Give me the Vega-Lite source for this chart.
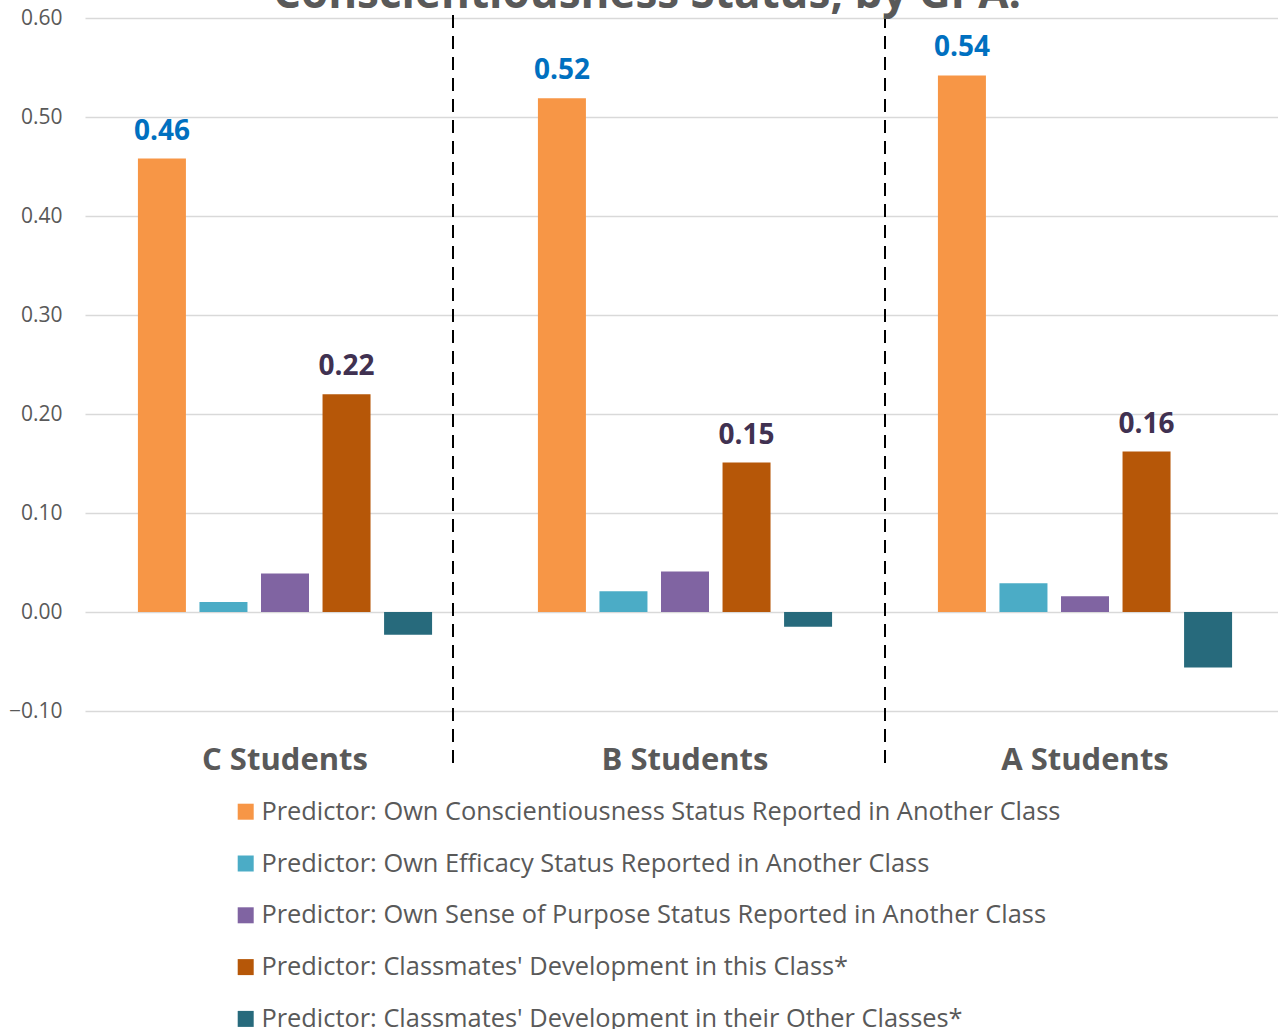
{
  "$schema": "https://vega.github.io/schema/vega-lite/v6.json",
  "width": 1200,
  "height": 693,
  "autosize": {"type": "none"},
  "padding": {"top": 18, "left": 85, "right": 0, "bottom": 318},
  "background": "white",
  "config": {"view": {"stroke": null}, "font": "Open Sans"},
  "title": {
    "text": "Conscientiousness Status, by GPA.",
    "font": "Open Sans",
    "fontSize": 44,
    "fontWeight": "bold",
    "color": "#595959",
    "anchor": "middle",
    "frame": "group",
    "dx": -38,
    "baseline": "alphabetic",
    "offset": -45
  },
  "datasets": {
    "bars": [
      {"group": "C Students", "predictor": "Predictor: Own Conscientiousness Status Reported in Another Class", "value": 0.458},
      {"group": "C Students", "predictor": "Predictor: Own Efficacy Status Reported in Another Class", "value": 0.010},
      {"group": "C Students", "predictor": "Predictor: Own Sense of Purpose Status Reported in Another Class", "value": 0.039},
      {"group": "C Students", "predictor": "Predictor: Classmates' Development in this Class*", "value": 0.220},
      {"group": "C Students", "predictor": "Predictor: Classmates' Development in their Other Classes*", "value": -0.023},
      {"group": "B Students", "predictor": "Predictor: Own Conscientiousness Status Reported in Another Class", "value": 0.519},
      {"group": "B Students", "predictor": "Predictor: Own Efficacy Status Reported in Another Class", "value": 0.021},
      {"group": "B Students", "predictor": "Predictor: Own Sense of Purpose Status Reported in Another Class", "value": 0.041},
      {"group": "B Students", "predictor": "Predictor: Classmates' Development in this Class*", "value": 0.151},
      {"group": "B Students", "predictor": "Predictor: Classmates' Development in their Other Classes*", "value": -0.015},
      {"group": "A Students", "predictor": "Predictor: Own Conscientiousness Status Reported in Another Class", "value": 0.542},
      {"group": "A Students", "predictor": "Predictor: Own Efficacy Status Reported in Another Class", "value": 0.029},
      {"group": "A Students", "predictor": "Predictor: Own Sense of Purpose Status Reported in Another Class", "value": 0.016},
      {"group": "A Students", "predictor": "Predictor: Classmates' Development in this Class*", "value": 0.162},
      {"group": "A Students", "predictor": "Predictor: Classmates' Development in their Other Classes*", "value": -0.056}
    ],
    "separators": [
      {"sep": 0.92, "top": 0.603, "bottom": -0.158},
      {"sep": 2.0, "top": 0.603, "bottom": -0.158}
    ]
  },
  "layer": [
    {
      "data": {"name": "bars"},
      "layer": [
        {
          "mark": {"type": "bar"},
          "encoding": {
            "x": {
              "field": "group", "type": "nominal",
              "sort": ["C Students", "B Students", "A Students"],
              "scale": {"paddingInner": 0, "paddingOuter": 0},
              "axis": {
                "title": null, "orient": "bottom", "domain": false, "ticks": false,
                "labelAngle": 0, "labelFont": "Open Sans", "labelFontSize": 31, "labelFontWeight": "bold",
                "labelColor": "#595959", "labelPadding": 49, "labelBaseline": "middle"
              }
            },
            "xOffset": {
              "field": "predictor", "type": "nominal",
              "scale": {
                "domain": [
                  "Predictor: Own Conscientiousness Status Reported in Another Class",
                  "Predictor: Own Efficacy Status Reported in Another Class",
                  "Predictor: Own Sense of Purpose Status Reported in Another Class",
                  "Predictor: Classmates' Development in this Class*",
                  "Predictor: Classmates' Development in their Other Classes*"
                ],
                "paddingInner": 0.22, "paddingOuter": 0.86
              }
            },
            "y": {
              "field": "value", "type": "quantitative",
              "scale": {"domain": [-0.1, 0.6], "nice": false},
              "axis": {
                "title": null, "values": [-0.1, 0, 0.1, 0.2, 0.3, 0.4, 0.5, 0.6],
                "format": ".2f", "domain": false, "ticks": false,
                "grid": true, "gridColor": "#d9d9d9", "gridWidth": 1.5,
                "labelFont": "Open Sans", "labelFontSize": 21, "labelColor": "#595959", "labelPadding": 23
              }
            },
            "color": {
              "field": "predictor", "type": "nominal",
              "scale": {
                "domain": [
                  "Predictor: Own Conscientiousness Status Reported in Another Class",
                  "Predictor: Own Efficacy Status Reported in Another Class",
                  "Predictor: Own Sense of Purpose Status Reported in Another Class",
                  "Predictor: Classmates' Development in this Class*",
                  "Predictor: Classmates' Development in their Other Classes*"
                ],
                "range": ["#F79646", "#4BACC6", "#8064A2", "#B65708", "#276A7C"]
              },
              "legend": {
                "title": null, "orient": "none", "legendX": 148, "legendY": 781,
                "direction": "vertical", "symbolType": "square", "symbolSize": 256,
                "symbolStrokeWidth": 0, "labelFont": "Open Sans", "labelFontSize": 25.4,
                "labelColor": "#595959", "labelLimit": 0, "rowPadding": 24.8, "labelOffset": 3
              }
            }
          }
        },
        {
          "transform": [
            {"filter": "datum.predictor === 'Predictor: Own Conscientiousness Status Reported in Another Class' || datum.predictor === \"Predictor: Classmates' Development in this Class*\""}
          ],
          "mark": {"type": "text", "baseline": "alphabetic", "dy": -19, "fontSize": 28, "fontWeight": "bold", "font": "Open Sans"},
          "encoding": {
            "x": {"field": "group", "type": "nominal", "sort": ["C Students", "B Students", "A Students"]},
            "xOffset": {"field": "predictor", "type": "nominal"},
            "y": {"field": "value", "type": "quantitative"},
            "text": {"field": "value", "type": "quantitative", "format": ".2f"},
            "color": {
              "condition": {"test": "datum.predictor === 'Predictor: Own Conscientiousness Status Reported in Another Class'", "value": "#0070C0"},
              "value": "#403151"
            }
          }
        }
      ]
    },
    {
      "data": {"name": "separators"},
      "mark": {"type": "rule", "color": "#000000", "strokeWidth": 2, "strokeDash": [13, 8]},
      "encoding": {
        "x": {"field": "sep", "type": "quantitative", "scale": {"domain": [0, 3], "nice": false, "zero": false}, "axis": null},
        "y": {"field": "top", "type": "quantitative"},
        "y2": {"field": "bottom"}
      }
    }
  ],
  "resolve": {"scale": {"x": "independent"}}
}
